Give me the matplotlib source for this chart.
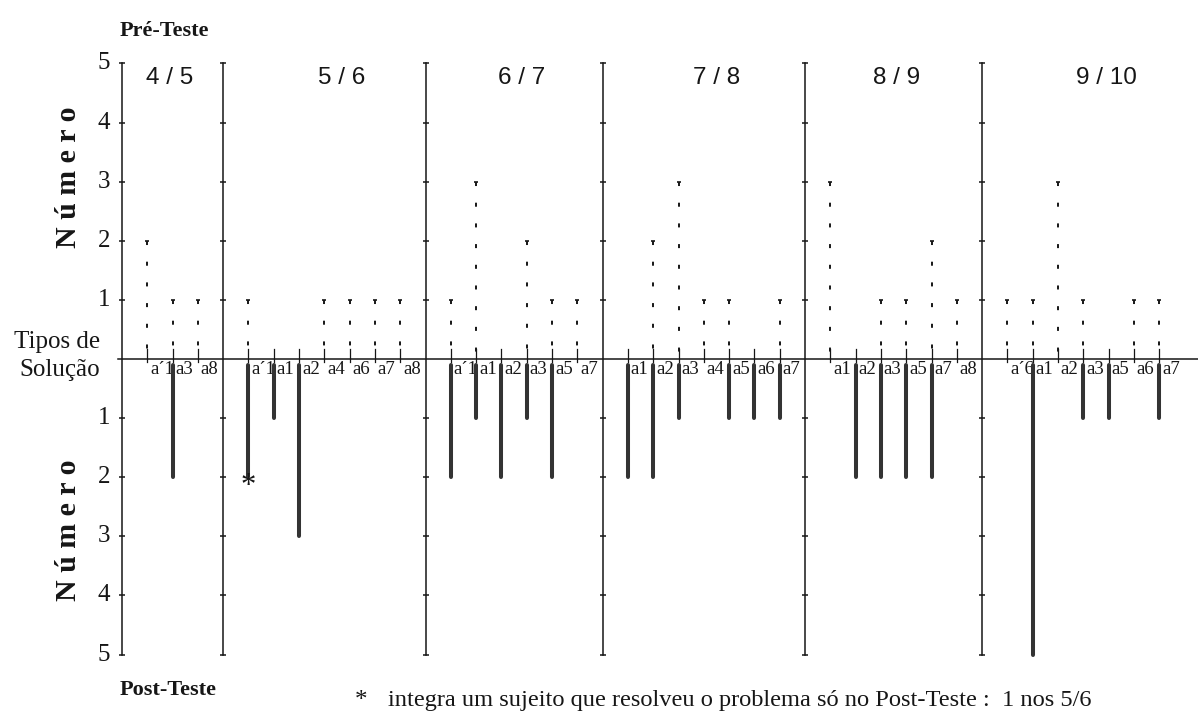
import matplotlib
matplotlib.use('Agg')
import matplotlib.pyplot as plt

# grupos de idade e tipos de solucao de cada grupo
grupos = ['4 / 5', '5 / 6', '6 / 7', '7 / 8', '8 / 9', '9 / 10']
tipos = [
    ['a´1', 'a3', 'a8'],
    ['a´1', 'a1', 'a2', 'a4', 'a6', 'a7', 'a8'],
    ['a´1', 'a1', 'a2', 'a3', 'a5', 'a7'],
    ['a1', 'a2', 'a3', 'a4', 'a5', 'a6', 'a7'],
    ['a1', 'a2', 'a3', 'a5', 'a7', 'a8'],
    ['a´6', 'a1', 'a2', 'a3', 'a5', 'a6', 'a7'],
]
# numero de sujeitos no Pre-Teste (para cima)
pre_teste = [
    [2, 1, 1],
    [1, 0, 0, 1, 1, 1, 1],
    [1, 3, 0, 2, 1, 1],
    [0, 2, 3, 1, 1, 0, 1],
    [3, 0, 1, 1, 2, 1],
    [1, 1, 3, 1, 0, 1, 1],
]
# numero de sujeitos no Post-Teste (para baixo)
post_teste = [
    [0, 2, 0],
    [2, 1, 3, 0, 0, 0, 0],
    [2, 1, 2, 1, 2, 0],
    [2, 2, 1, 0, 1, 1, 1],
    [0, 2, 2, 2, 2, 0],
    [0, 5, 0, 1, 1, 0, 1],
]
niveis = [1, 2, 3, 4, 5]
nota = 'integra um sujeito que resolveu o problema só no Post-Teste :  1 nos 5/6'

# deslocamento horizontal dos titulos dos grupos
titulo_dx = [-0.1, 0.7, 0.3, 0.5, 0.1, 0.9]

plt.rcParams['lines.scale_dashes'] = False
SERIF = 'Liberation Serif'
SANS = 'Liberation Sans'
tinta = '#161616'
barra = '#333333'

fig = plt.figure(figsize=(11.98, 7.19), dpi=100)
ax = fig.add_axes([0, 0, 1, 1])
ax.set_xlim(-4.822, 42.53)
ax.set_ylim(-6.091, 6.074)
ax.axis('off')

inicio = 0
for g, nome in enumerate(grupos):
    n = len(tipos[g])
    # eixo vertical do grupo
    ax.plot([inicio, inicio], [-5, 5], color=tinta, lw=1.1, zorder=3)
    marcas = niveis + [-v for v in niveis]
    ax.plot([inicio] * len(marcas), marcas, ls='none', marker='_', ms=5,
            mew=1.1, color=tinta, zorder=3)
    for i in range(n):
        x = inicio + i + 1
        ax.plot([x, x], [-0.05, 0.17], color=tinta, lw=0.9)
        if pre_teste[g][i]:
            ax.plot([x, x], [pre_teste[g][i], 0], color=tinta, lw=1.4,
                    ls=(0, (2.9, 12)))
            ax.plot(x, pre_teste[g][i], marker='_', ms=3, mew=1.2, color=tinta)
        if post_teste[g][i]:
            ax.plot([x, x], [-0.1, -post_teste[g][i]], color=barra, lw=2.9,
                    solid_capstyle='round', zorder=4)
        ax.text(x + 0.11, -0.04, tipos[g][i], ha='left', va='top',
                fontsize=13.5, family=SERIF, color=tinta)
    ax.text(inicio + (n + 1) / 2 + titulo_dx[g], 4.76, nome, ha='center',
            va='center', fontsize=17.5, family=SANS, color=tinta)
    inicio += n + 1

# eixo horizontal
ax.plot([-0.16, 42.53], [0, 0], color=tinta, lw=1.1, zorder=3)

for v in niveis:
    ax.text(-0.71, v, str(v), ha='center', va='center', fontsize=18,
            family=SERIF, color=tinta)
    ax.text(-0.71, -v, str(v), ha='center', va='center', fontsize=18,
            family=SERIF, color=tinta)

ax.text(-2.13, 3.08, 'N ú m e r o', rotation=90, ha='center', va='center',
        fontsize=21.5, fontweight='bold', family=SERIF, color=tinta)
ax.text(-2.13, -2.89, 'N ú m e r o', rotation=90, ha='center', va='center',
        fontsize=21.5, fontweight='bold', family=SERIF, color=tinta)
ax.text(-0.87, 0.05, 'Tipos de\nSolução', ha='right', va='center',
        multialignment='right', linespacing=1.35, fontsize=18,
        family=SERIF, color=tinta)
ax.text(-0.08, 5.55, 'Pré-Teste', ha='left', va='center', fontsize=16,
        fontweight='bold', family=SERIF, color=tinta)
ax.text(-0.08, -5.6, 'Post-Teste', ha='left', va='center', fontsize=16,
        fontweight='bold', family=SERIF, color=tinta)

# asterisco e nota de rodape
ax.text(5, -2.15, '*', ha='center', va='center', fontsize=22,
        family=SERIF, color=tinta, zorder=5)
ax.text(9.45, -5.79, '*', ha='center', va='center', fontsize=18,
        family=SERIF, color=tinta)
ax.text(10.51, -5.77, nota, ha='left', va='center', fontsize=17.6,
        family=SERIF, color=tinta)

fig.savefig('out.png', dpi=100)
